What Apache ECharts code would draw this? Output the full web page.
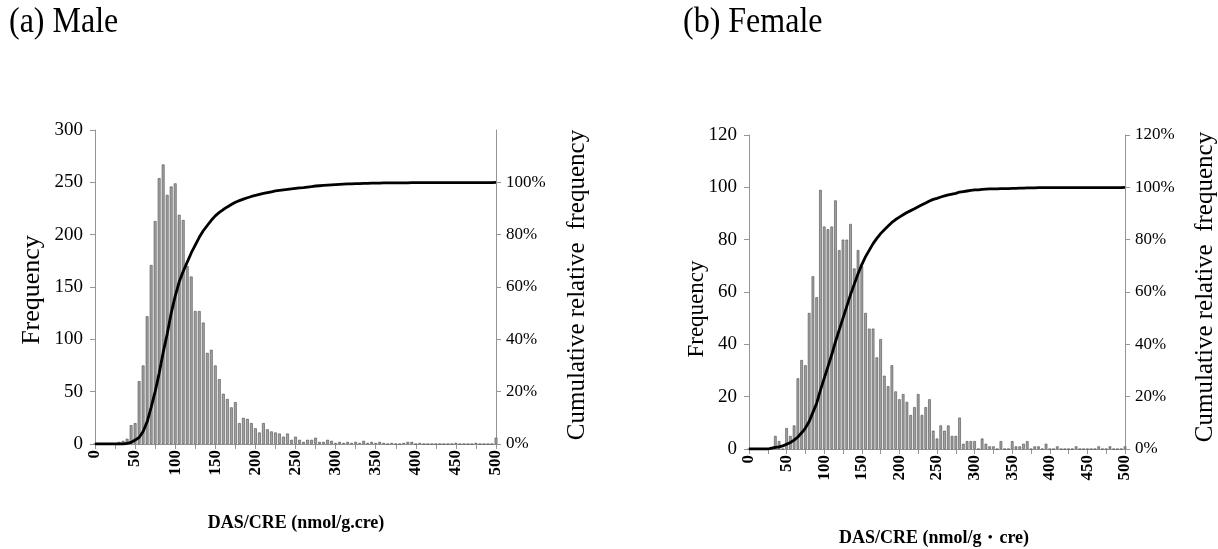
<!DOCTYPE html>
<html>
<head>
<meta charset="utf-8">
<script src="https://cdn.jsdelivr.net/npm/echarts@6/dist/echarts.min.js"></script>
<style>
html,body{margin:0;padding:0;background:#fff;}
#c{width:1218px;height:549px;}
</style>
</head>
<body>
<div id="c"></div>
<script>
// Bin categories (DAS/CRE, nmol/g.cre), 0..500 step 5
const categories = [0,5,10,15,20,25,30,35,40,45,50,55,60,65,70,75,80,85,90,95,100,105,110,115,120,125,130,135,140,145,150,155,160,165,170,175,180,185,190,195,200,205,210,215,220,225,230,235,240,245,250,255,260,265,270,275,280,285,290,295,300,305,310,315,320,325,330,335,340,345,350,355,360,365,370,375,380,385,390,395,400,405,410,415,420,425,430,435,440,445,450,455,460,465,470,475,480,485,490,495,500];

// (a) Male - frequency per bin
const maleFreq = [0,0,0,0,0,0,2,3,5,18,20,60,75,122,171,213,254,267,238,246,249,219,214,170,160,127,127,116,87,90,75,62,48,43,35,40,20,25,24,20,15,11,20,14,12,11,10,7,10,4,7,4,2,4,4,6,2,2,4,3,1,2,1,2,1,2,1,3,1,2,1,2,1,0,1,0,0,1,2,2,0,1,0,0,0,0,0,0,0,0,1,0,0,0,0,1,0,0,0,0,6];
// (a) Male - cumulative relative frequency (%)
const maleCum = [0,0,0,0,0,0,0,0,0.2,0.6,1.5,2.5,4.8,8.5,14,20,27,35,42,50,56.5,62,66,69.5,73,76,79,81.5,83.5,85.5,87.2,88.5,89.6,90.6,91.5,92.4,93,93.6,94.1,94.6,95,95.4,95.8,96.1,96.4,96.7,96.9,97.1,97.3,97.5,97.7,97.9,98,98.2,98.4,98.6,98.7,98.8,98.9,99,99.1,99.2,99.3,99.4,99.4,99.5,99.5,99.6,99.6,99.7,99.7,99.7,99.8,99.8,99.8,99.8,99.8,99.8,99.8,99.9,99.9,99.9,99.9,99.9,99.9,99.9,99.9,99.9,99.9,99.9,99.9,99.9,99.9,99.9,99.9,99.9,99.9,99.9,99.9,99.9,100];

// (b) Female - frequency per bin
const femaleFreq = [0,0,0,0,0,0,0,5,3,0,8,5,9,27,34,32,52,66,58,99,85,84,85,95,76,80,80,86,69,76,70,52,46,46,35,42,28,24,32,22,19,21,18,13,16,21,13,16,19,7,4,9,7,9,5,5,12,2,3,3,3,0,4,2,1,1,0,3,0,0,3,1,1,2,3,0,1,1,0,2,0,0,1,0,0,0,0,1,0,0,0,0,0,1,0,0,1,0,0,0,1];
// (b) Female - cumulative relative frequency (%)
const femaleCum = [0,0,0,0,0,0,0.3,0.6,0.8,1.2,1.8,2.5,3.4,4.6,6.2,8,10.5,14,17.5,22.5,27,31.5,36,41,45.5,50,54.5,59,63,67,70.5,73.5,76,78.5,80.5,82.3,83.8,85.2,86.6,87.7,88.6,89.5,90.4,91.1,91.8,92.6,93.3,94,94.8,95.4,95.8,96.3,96.7,97.1,97.4,97.7,98.2,98.4,98.6,98.8,99,99,99.2,99.3,99.4,99.4,99.4,99.5,99.5,99.5,99.6,99.6,99.7,99.7,99.8,99.8,99.8,99.9,99.9,99.9,99.9,99.9,99.9,99.9,99.9,99.9,99.9,99.9,99.9,99.9,99.9,99.9,99.9,99.9,99.9,99.9,99.9,99.9,99.9,99.9,100];

const panelTitles = ['(a) Male', '(b) Female'];
const xNames = ['DAS/CRE (nmol/g.cre)', 'DAS/CRE (nmol/g\u30fbcre)'];
const yNameLeft = 'Frequency';
const yNameRight = 'Cumulative relative  frequency';

const SERIF = '"Liberation Serif","Times New Roman",serif';
const axisGray = '#959595';

function xAxis(idx) {
  return {
    type: 'category', gridIndex: idx, data: categories, boundaryGap: false,
    axisLine: {lineStyle: {color: axisGray, width: 1}},
    axisTick: {interval: 4, length: 5, lineStyle: {color: axisGray}},
    axisLabel: {interval: 9, rotate: 90, color: '#000', fontFamily: SERIF, fontSize: 17, fontWeight: 'bold', margin: 6}
  };
}
function yLeft(idx, max, interval) {
  return {
    type: 'value', gridIndex: idx, min: 0, max: max, interval: interval, position: 'left',
    axisLine: {show: true, lineStyle: {color: axisGray}},
    axisTick: {show: true, length: 5, lineStyle: {color: axisGray}},
    splitLine: {show: false},
    axisLabel: {color: '#000', fontFamily: SERIF, fontSize: 19, margin: 12}
  };
}
function yRight(idx, showMax) {
  return {
    type: 'value', gridIndex: idx, min: 0, max: 120, interval: 20, position: 'right',
    axisLine: {show: true, lineStyle: {color: axisGray}},
    axisTick: {show: true, length: 5, lineStyle: {color: axisGray}},
    splitLine: {show: false},
    axisLabel: {color: '#000', fontFamily: SERIF, fontSize: 17, margin: 10, showMaxLabel: showMax,
      formatter: v => v + '%'}
  };
}
function vText(text, x, y, size) {
  return {type: 'text', x: x, y: y, rotation: Math.PI / 2,
    style: {text: text, fill: '#000', font: size + 'px ' + SERIF, align: 'center', verticalAlign: 'middle'}};
}
function hText(text, x, y, size, weight) {
  return {type: 'text', x: x, y: y,
    style: {text: text, fill: '#000', font: weight + ' ' + size + 'px ' + SERIF, align: 'center', verticalAlign: 'middle'}};
}
function titleText(text, x) {
  return {type: 'text', x: x, y: 22, scaleY: 1.15,
    style: {text: text, fill: '#000', font: '32px ' + SERIF, align: 'left', verticalAlign: 'middle'}};
}
const barStyle = {color: '#a2a2a2', borderColor: '#4e4e4e', borderWidth: 0.6};
const lineStyle = {color: '#000', width: 2.8};

const chart = echarts.init(document.getElementById('c'), null, {renderer: 'canvas'});
chart.setOption({
  animation: false,
  backgroundColor: '#fff',
  grid: [
    {left: 95, top: 130, width: 401, height: 314},
    {left: 749, top: 135, width: 376, height: 314}
  ],
  xAxis: [xAxis(0), xAxis(1)],
  yAxis: [yLeft(0, 300, 50), yRight(0, false), yLeft(1, 120, 20), yRight(1, true)],
  graphic: [
    titleText(panelTitles[0], 9),
    titleText(panelTitles[1], 683),
    vText(yNameLeft, 32, 290, 26),
    vText(yNameRight, 577, 285, 25),
    vText(yNameLeft, 697, 309, 23),
    vText(yNameRight, 1205, 287, 25),
    hText(xNames[0], 296, 523, 18, 'bold'),
    hText(xNames[1], 934, 538, 18, 'bold')
  ],
  series: [
    {type: 'bar', xAxisIndex: 0, yAxisIndex: 0, data: maleFreq, barCategoryGap: '30%', itemStyle: barStyle},
    {type: 'line', xAxisIndex: 0, yAxisIndex: 1, data: maleCum, showSymbol: false, lineStyle: lineStyle, z: 5},
    {type: 'bar', xAxisIndex: 1, yAxisIndex: 2, data: femaleFreq, barCategoryGap: '30%', itemStyle: barStyle},
    {type: 'line', xAxisIndex: 1, yAxisIndex: 3, data: femaleCum, showSymbol: false, lineStyle: lineStyle, z: 5}
  ]
});
</script>
</body>
</html>
